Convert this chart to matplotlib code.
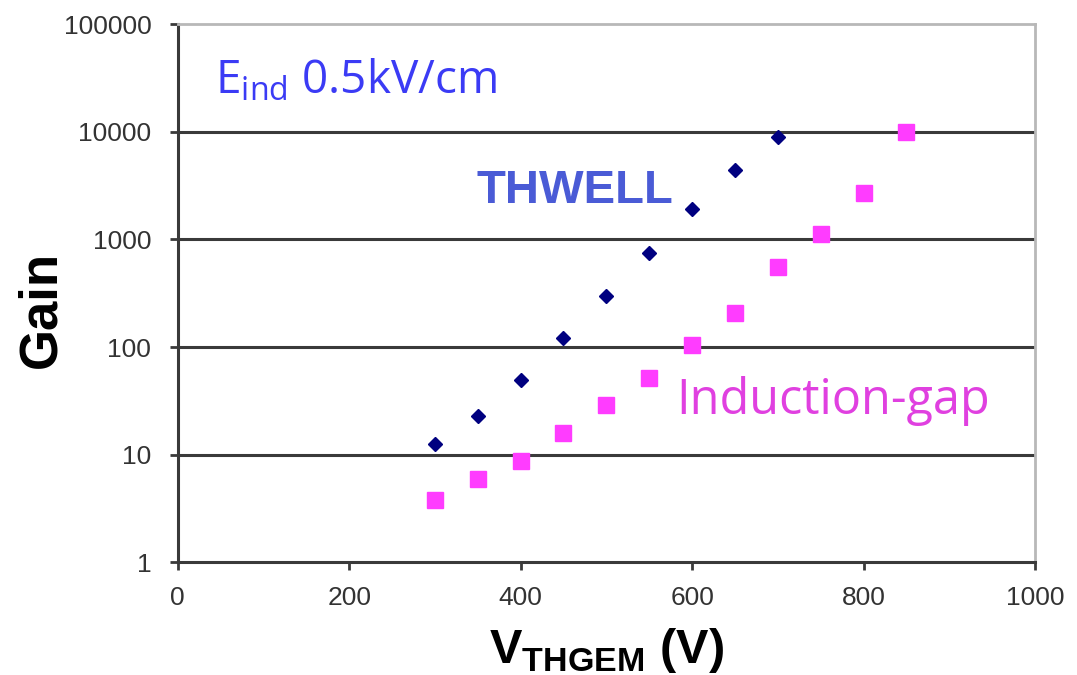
import matplotlib.pyplot as plt
from matplotlib.ticker import FixedLocator, FixedFormatter, NullLocator

plt.rcParams["font.family"] = "Liberation Sans"
plt.rcParams["mathtext.fontset"] = "custom"
plt.rcParams["mathtext.rm"] = "Open Sans"
plt.rcParams["mathtext.bf"] = "Liberation Sans:bold"

# Gain vs THGEM voltage
v_thwell = [300, 350, 400, 450, 500, 550, 600, 650, 700]
gain_thwell = [12.5, 23, 49, 121, 297, 745, 1900, 4400, 8900]

v_indgap = [300, 350, 400, 450, 500, 550, 600, 650, 700, 750, 800, 850]
gain_indgap = [3.8, 5.9, 8.7, 16, 29, 52, 104, 207, 550, 1120, 2700, 10000]

y_ticks = [1, 10, 100, 1000, 10000, 100000]
y_labels = ["1", "10", "100", "1000", "10000", "100000"]
x_ticks = [0, 200, 400, 600, 800, 1000]

fig = plt.figure(figsize=(10.77, 6.75), dpi=100)
ax = fig.add_axes([0.165, 0.167, 0.796, 0.797])

ax.set_yscale("log")
ax.set_xlim(0, 1000)
ax.set_ylim(1, 100000)

# horizontal gridlines at each decade
for g in y_ticks[1:-1]:
    ax.axhline(g, color="#3a3a3a", lw=2.2, zorder=1)

ax.plot(v_thwell, gain_thwell, ls="none", marker="D", ms=7.2,
        color="#000080", zorder=3)
ax.plot(v_indgap, gain_indgap, ls="none", marker="s", ms=12,
        color="#ff3cff", zorder=3)

ax.yaxis.set_major_locator(FixedLocator(y_ticks))
ax.yaxis.set_major_formatter(FixedFormatter(y_labels))
ax.yaxis.set_minor_locator(NullLocator())
ax.set_xticks(x_ticks)
ax.tick_params(axis="both", labelsize=19, labelcolor="#333333",
               color="#3a3a3a", width=2, length=6, direction="out")
ax.tick_params(axis="y", pad=13)
ax.tick_params(axis="x", pad=11)

for s in ["left", "bottom"]:
    ax.spines[s].set_color("#3a3a3a")
    ax.spines[s].set_linewidth(2.2)
for s in ["top", "right"]:
    ax.spines[s].set_color("#b8b8b8")
    ax.spines[s].set_linewidth(2)

ax.set_ylabel("Gain", fontsize=38, fontweight="bold")
ax.yaxis.set_label_coords(-0.13, 0.47)
ax.set_xlabel(r"$\mathbf{V}_{\mathbf{THGEM}}$ (V)", fontsize=35,
              fontweight="bold")
ax.xaxis.set_label_coords(0.5, -0.118)

ax.text(0.043, 0.872, r"E$_{\mathrm{ind}}$ 0.5kV/cm", transform=ax.transAxes,
        fontsize=33, color="#3b3bf5", family="Open Sans", va="baseline")
ax.text(0.349, 0.667, "THWELL", transform=ax.transAxes, fontsize=34,
        fontweight="bold", color="#4a5bd6", va="baseline")
ax.text(0.582, 0.275, "Induction-gap", transform=ax.transAxes, fontsize=35,
        color="#e040e0", family="Open Sans", va="baseline")

fig.savefig("out.png", dpi=100)
